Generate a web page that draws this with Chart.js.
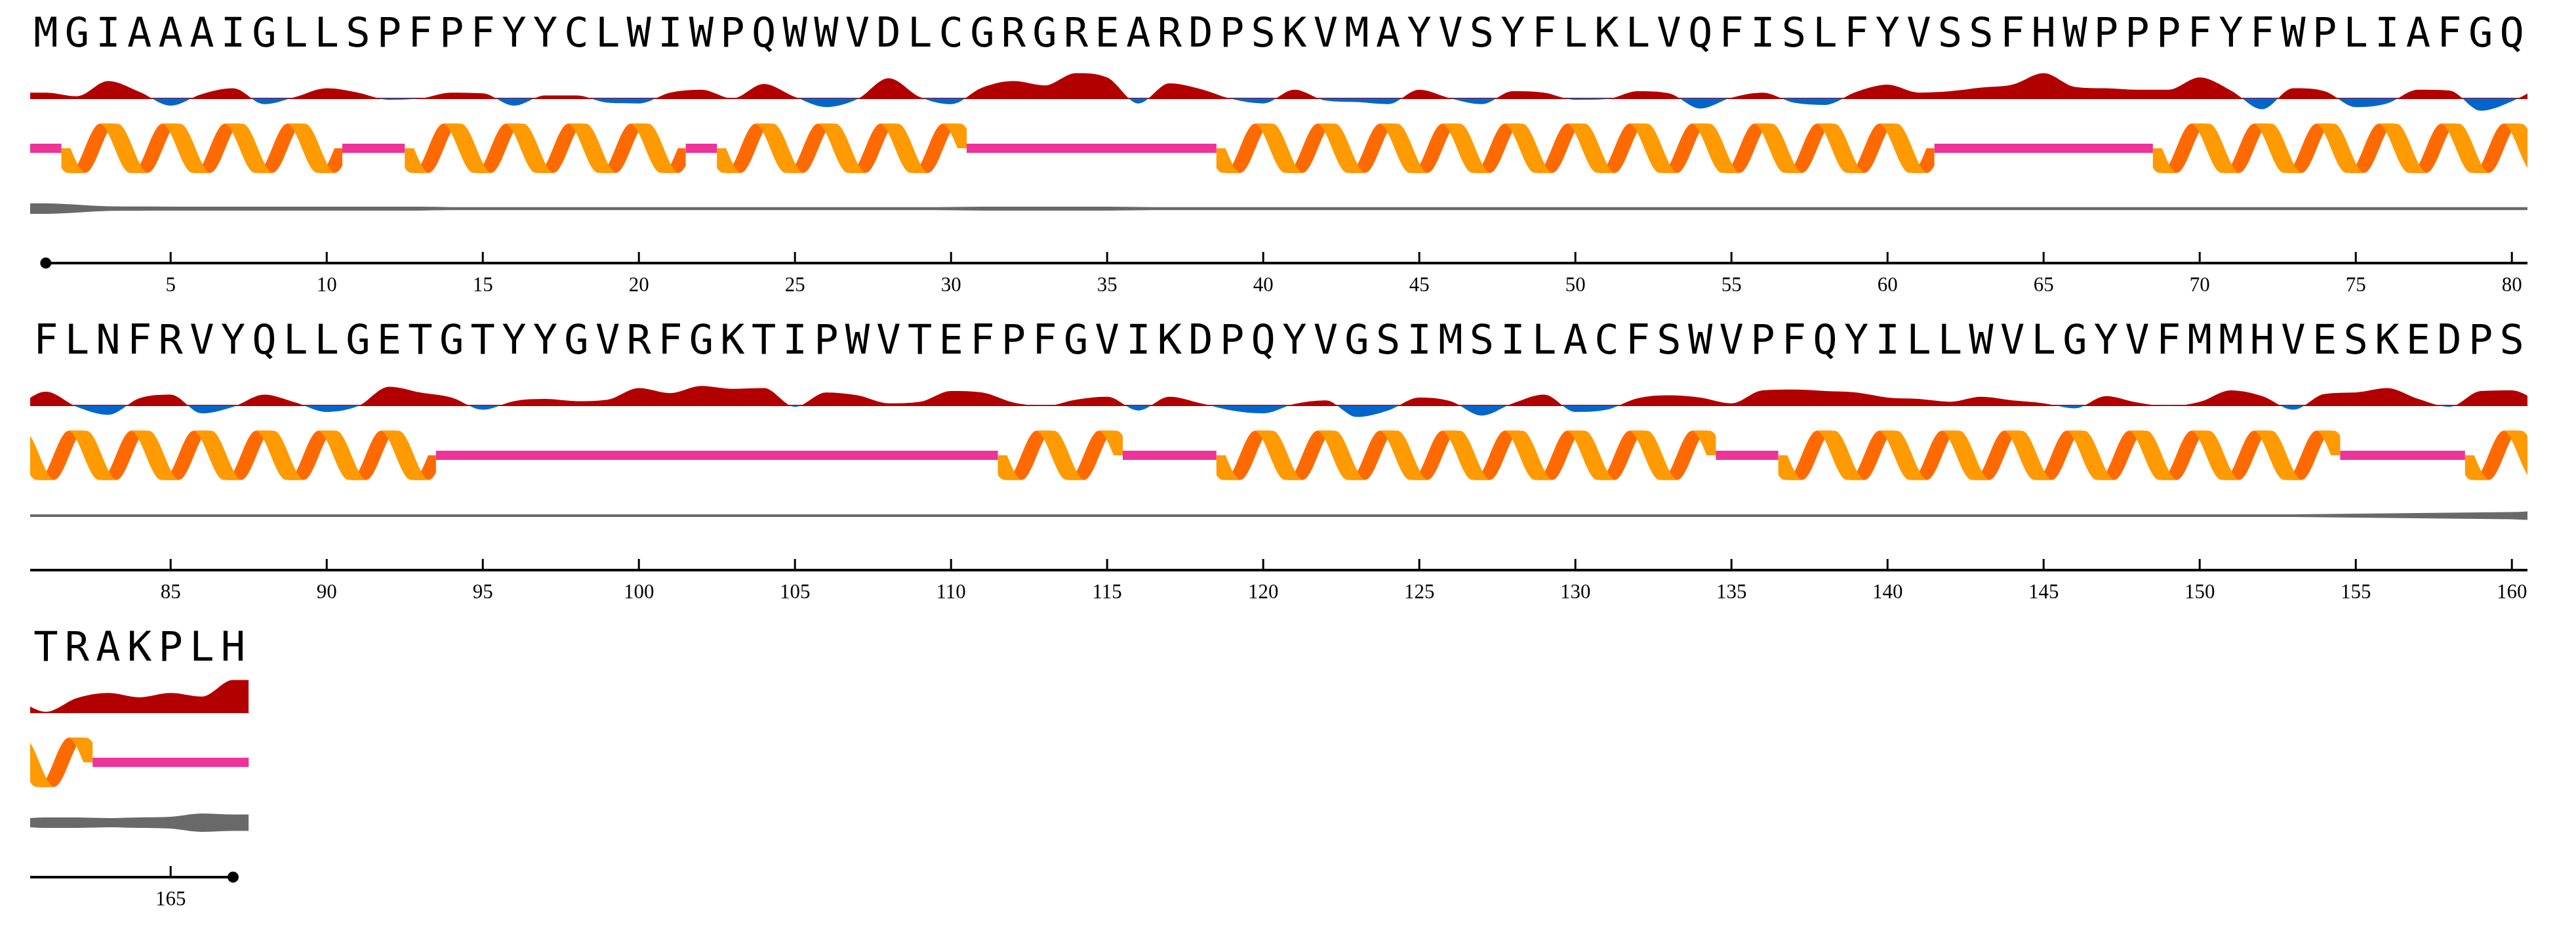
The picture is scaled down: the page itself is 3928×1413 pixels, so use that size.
<!DOCTYPE html>
<html><head><meta charset="utf-8">
<script src="https://cdn.jsdelivr.net/npm/chart.js@4"></script>
<style>html,body{margin:0;padding:0;background:#fff}canvas{position:absolute;left:0}</style>
</head><body>
<canvas id="r0" width="3928" height="468" style="top:0"></canvas>
<canvas id="r1" width="3928" height="468" style="top:468px"></canvas>
<canvas id="r2" width="3928" height="468" style="top:936px"></canvas>
<script>
const sequence = "MGIAAAIGLLSPFPFYYCLWIWPQWWVDLCGRGREARDPSKVMAYVSYFLKLVQFISLFYVSSFHWPPPFYFWPLIAFGQ" +
  "FLNFRVYQLLGETGTYYGVRFGKTIPWVTEFPFGVIKDPQYVGSIMSILACFSWVPFQYILLWVLGYVFMMHVESKEDPS" + "TRAKPLH";
const hydropathy = [
  8,3,24,9,-10,6,14,-8,2,14, 8,-2,0,8,7,-10,4,4,-6,-7, 8,12,0,20,2,-12,-1,28,2,-8,
  15,24,18,35,29,-7,21,13,-1,-7, 12,-3,-5,-8,12,0,-8,10,8,-2, -1,10,7,-14,1,8,-6,-9,9,19,
  8,10,15,19,35,16,14,12,12,29, 11,-15,14,10,-12,-7,12,11,-17,-4,
  19,-2,-13,10,15,-11,-2,15,4,-9, -1,26,18,11,-6,6,9,6,8,24, 17,27,23,24,-2,18,14,3,5,20,
  18,4,-1,8,12,-7,12,3,-7,-11, 2,7,-16,-7,11,6,-14,3,15,-9, -6,10,14,11,3,21,22,20,18,11,
  9,5,12,7,3,-4,13,4,-1,5, 21,13,-6,16,18,24,9,-2,20,21,
  1,20,27,21,27,22,45];
const disorderHalf = [
  8,6,3.5,3.2,3,3,3,3,3,3, 3,3,3,2.3,2.3,2.3,2.3,2.3,2.3,2.3, 2.3,2.3,2.3,2.3,2.3,2.3,2.3,2.3,2.3,2.6,
  3,3,3,3,3,2.6,2.3,2.3,2.3,2.3, 2.3,2.3,2.3,2.3,2.3,2.3,2.3,2.3,2.3,2.3, 2.3,2.3,2.3,2.3,2.3,2.3,2.3,2.3,2.3,2.3,
  2.3,2.3,2.3,2.3,2.3,2.3,2.3,2.3,2.3,2.3, 2.3,2.3,2.3,2.3,2.3,2.3,2.3,2.3,2.3,2.3,
  2,2,2,2,2,2,2,2,2,2, 2,2,2,2,2,2,2,2,2,2, 2,2,2,2,2,2,2,2,2,2,
  2,2,2,2,2,2,2,2,2,2, 2,2,2,2,2,2,2,2,2,2, 2,2,2,2,2,2,2,2,2,2,
  2,2,2,2,2,2,2,2,2,2, 2,2,2,2.5,3,3.5,4,4.5,5,5.5,
  8,8,7,8,9,14,12.5];
const helixSegments = [[2,10],[13,21],[23,30],[39,61],[69,93],[112,115],[119,134],[137,154],[159,162]];
const coilSegments = [[1,1],[11,12],[22,22],[31,38],[62,68],[94,111],[116,118],[135,136],[155,158],[163,167]];
const tickValues = [5,10,15,20,25,30,35,40,45,50,55,60,65,70,75,80];
const perRow = 80;
const N = sequence.length;

const L = {top:0, axisY:401, hydroBase:150, hydroUnit:1.1, ssCenter:226, grayCenter:318, letterY:55, helixAmp:37.5};

function rowPoints(arr, off){
  const pts=[];
  const first=off+1, last=Math.min(off+perRow,N);
  if(first>1) pts.push({x:0,y:arr[first-2]}); else pts.push({x:0.5,y:arr[0]});
  for(let i=first;i<=last;i++) pts.push({x:i-off,y:arr[i-1]});
  if(last<N) pts.push({x:last-off+1,y:arr[last]}); else pts.push({x:last-off+0.5,y:arr[N-1]});
  return pts;
}

const trackPlugin = {
  id:'track',
  beforeDatasetsDraw(chart){
    const off=chart.options.plugins.track.off;
    const ctx=chart.ctx, xs=chart.scales.x, ys=chart.scales.yS, a=chart.chartArea;
    const c=ys.getPixelForValue(0), A=ys.getPixelForValue(0)-ys.getPixelForValue(L.helixAmp);
    const wD=28, wA=24;
    ctx.save();
    ctx.beginPath(); ctx.rect(a.left,0,a.right-a.left,chart.height); ctx.clip();
    helixSegments.forEach(([s,e])=>{
      const u0=s-0.5,u1=e+0.5;
      if(u1-off<0||u0-off>perRow+1) return;
      ctx.save();
      const xa=xs.getPixelForValue(u0-off), xb=xs.getPixelForValue(u1-off);
      ctx.beginPath(); ctx.rect(xa,0,xb-xa,chart.height); ctx.clip();
      const pieces=[[u0,u0+0.5,true]];
      for(let k=0;u0+0.5+k<u1;k++) pieces.push([u0+0.5+k,Math.min(u0+1.5+k,u1),k%2===1]);
      [false,true].forEach(desc=>{
        ctx.fillStyle=desc?'#FF9A00':'#FF6A00';
        const w=desc?wD:wA;
        pieces.filter(p=>p[2]===desc).forEach(([p0,p1])=>{
          const pts=[];
          for(let j=0;j<=40;j++){const u=p0+(p1-p0)*j/40;pts.push([xs.getPixelForValue(u-off),c+A*Math.sin(Math.PI*(u-u0))]);}
          ctx.beginPath();
          pts.forEach(([x,y],j)=>j?ctx.lineTo(x-w/2,y):ctx.moveTo(x-w/2,y));
          for(let j=pts.length-1;j>=0;j--) ctx.lineTo(pts[j][0]+w/2,pts[j][1]);
          ctx.closePath(); ctx.fill();
        });
      });
      ctx.restore();
    });
    ctx.restore();
  },
  afterDraw(chart){
    const off=chart.options.plugins.track.off;
    const ctx=chart.ctx, xs=chart.scales.x, a=chart.chartArea;
    ctx.save();
    ctx.fillStyle='#000'; ctx.font="62px 'DejaVu Sans Mono'"; ctx.textAlign='center'; ctx.textBaseline='middle';
    for(let i=off+1;i<=Math.min(off+perRow,N);i++) ctx.fillText(sequence[i-1], xs.getPixelForValue(i-off), a.top+L.letterY);
    const y=L.axisY;
    const last=Math.min(off+perRow,N);
    const x0=off===0?xs.getPixelForValue(1):xs.getPixelForValue(0.5);
    const x1=last===N?xs.getPixelForValue(N-off):xs.getPixelForValue(perRow+0.5);
    ctx.strokeStyle='#000'; ctx.lineWidth=4;
    ctx.beginPath(); ctx.moveTo(x0,y); ctx.lineTo(x1,y); ctx.stroke();
    ctx.lineWidth=3;
    xs.ticks.forEach(t=>{ if(t.value+off>N) return; const x=xs.getPixelForValue(t.value); ctx.beginPath(); ctx.moveTo(x,y-17); ctx.lineTo(x,y); ctx.stroke();});
    ctx.fillStyle='#000';
    if(off===0){ctx.beginPath();ctx.arc(x0,y,8.5,0,Math.PI*2);ctx.fill();}
    if(last===N){ctx.beginPath();ctx.arc(x1,y,8.5,0,Math.PI*2);ctx.fill();}
    ctx.restore();
  }
};

function makeRow(r){
  const off=r*perRow;
  const hyd=rowPoints(hydropathy,off);
  const gU=rowPoints(disorderHalf,off);
  const gL=gU.map(p=>({x:p.x,y:-p.y}));
  const coil=[];
  coilSegments.forEach(([s,e])=>{coil.push({x:s-0.5-off,y:0},{x:e+0.5-off,y:0},{x:e+0.5-off,y:null});});
  const zero=[{x:hyd[0].x,y:0},{x:hyd[hyd.length-1].x,y:0}];
  const hu=L.hydroUnit;
  new Chart(document.getElementById('r'+r),{
    type:'line',
    data:{datasets:[
      {data:hyd,yAxisID:'yH',borderWidth:0,pointRadius:0,cubicInterpolationMode:'monotone',
       fill:{target:'origin',above:'#B20000',below:'#0066CC'},borderColor:'rgba(0,0,0,0)'},
      {data:zero,yAxisID:'yH',borderWidth:2,borderColor:'#B20000',pointRadius:0,fill:false},
      {data:coil,yAxisID:'yS',borderWidth:14,borderColor:'#EE3399',borderCapStyle:'butt',pointRadius:0,spanGaps:false,fill:false},
      {data:gU,yAxisID:'yG',borderWidth:0,pointRadius:0,cubicInterpolationMode:'monotone',fill:false,borderColor:'rgba(0,0,0,0)'},
      {data:gL,yAxisID:'yG',borderWidth:0,pointRadius:0,cubicInterpolationMode:'monotone',fill:'-1',backgroundColor:'#696969',borderColor:'rgba(0,0,0,0)'}
    ]},
    options:{
      responsive:false,devicePixelRatio:1,animation:false,
      layout:{padding:{left:46,right:74,top:0,bottom:0}},
      plugins:{legend:{display:false},tooltip:{enabled:false},track:{off:off}},
      scales:{
        x:{type:'linear',min:0.5,max:perRow+0.5,grid:{display:false},border:{display:false},
           afterBuildTicks:s=>{s.ticks=tickValues.filter(v=>v+off<=N).map(v=>({value:v}));},
           afterFit:s=>{s.height=468-L.axisY;},
           ticks:{padding:8,maxRotation:0,autoSkip:false,color:'#000',font:{family:"'Liberation Serif'",size:31},callback:v=>String(v+off)}},
        yH:{display:false,min:-(L.axisY-L.hydroBase)/hu,max:L.hydroBase/hu},
        yS:{display:false,min:-(L.axisY-L.ssCenter),max:L.ssCenter},
        yG:{display:false,min:-(L.axisY-L.grayCenter),max:L.grayCenter}
      }
    },
    plugins:[trackPlugin]
  });
}
[0,1,2].forEach(makeRow);
</script></body></html>
